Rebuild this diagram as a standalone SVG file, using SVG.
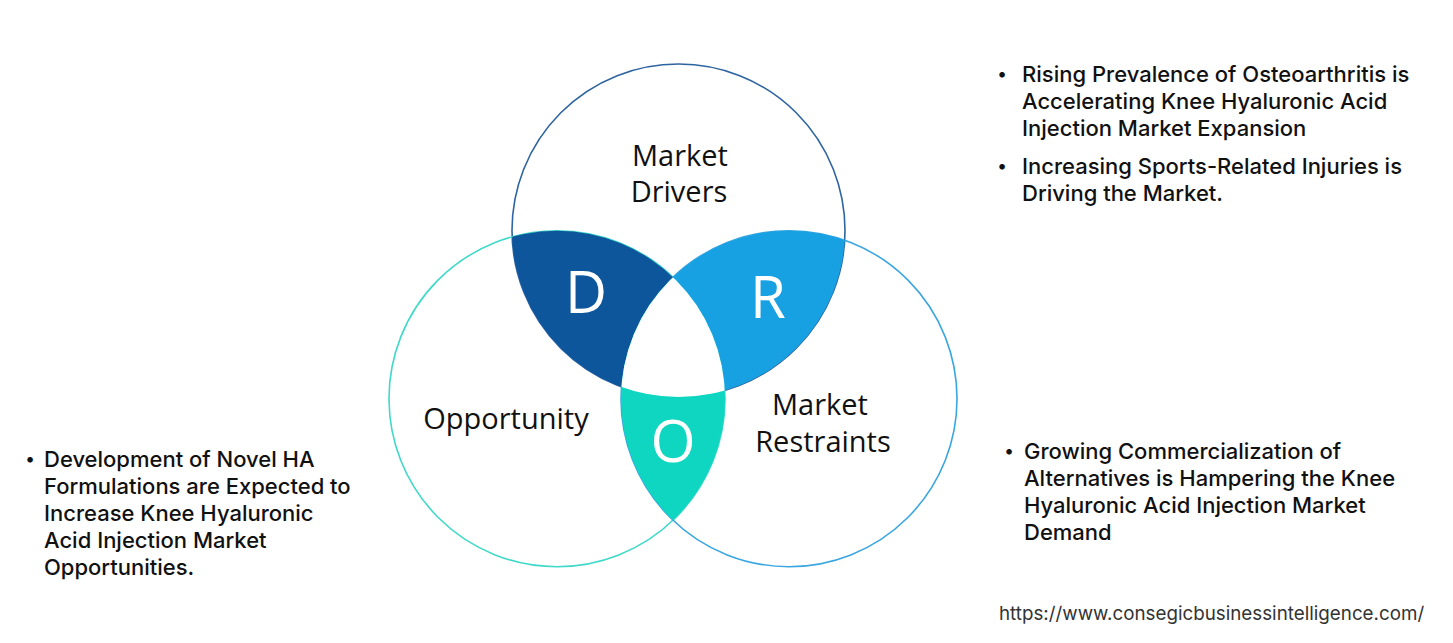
<svg xmlns="http://www.w3.org/2000/svg" width="1453" height="643" viewBox="0 0 1453 643">
<defs>
<style>
.lbl{font-family:"Open Sans","Noto Sans",sans-serif;font-size:29px;fill:#111;text-anchor:middle}
.big{font-family:"Open Sans","Noto Sans",sans-serif;font-size:58px;fill:#fff;text-anchor:middle}
.txt{font-family:Inter,"Noto Sans",sans-serif;font-size:22px;font-weight:500;fill:#111}
.bul{font-family:Inter,"Noto Sans",sans-serif;font-size:18px;fill:#111}
.url{font-family:Inter,"Noto Sans",sans-serif;font-size:18.8px;fill:#333}
</style>
<clipPath id="cT"><circle cx="678.5" cy="230.5" r="166.5"/></clipPath>
<clipPath id="cL"><circle cx="557" cy="398.7" r="168"/></clipPath>
<clipPath id="cR"><circle cx="789" cy="398.7" r="168"/></clipPath>
</defs>
<rect width="1453" height="643" fill="#fff"/>
<g id="circles" fill="none" stroke-width="1.6">
<circle cx="678.5" cy="230.5" r="166.5" stroke="#2e64a0"/>
<circle cx="557" cy="398.7" r="168" stroke="#40d9c9"/>
<circle cx="789" cy="398.7" r="168" stroke="#3aa6e0"/>
</g>
<g id="node-D">
<circle cx="678.5" cy="230.5" r="166.5" fill="#0d569c" clip-path="url(#cL)"/>
</g>
<g id="node-R">
<circle cx="678.5" cy="230.5" r="166.5" fill="#17a1e2" clip-path="url(#cR)"/>
</g>
<g id="node-O">
<circle cx="557" cy="398.7" r="168" fill="#0fd6c1" clip-path="url(#cR)"/>
</g>
<g id="center" clip-path="url(#cL)">
<circle cx="678.5" cy="230.5" r="166.5" fill="#fff" clip-path="url(#cR)"/>
</g>
<g id="letters">
<text class="big" x="586" y="313">D</text>
<text class="big" x="768" y="318">R</text>
<text class="big" x="673" y="462">O</text>
</g>
<g id="node-drivers">
<text class="lbl" x="680" y="166">Market</text>
<text class="lbl" x="679" y="202">Drivers</text>
</g>
<g id="node-opportunity">
<text class="lbl" x="506" y="429">Opportunity</text>
</g>
<g id="node-restraints">
<text class="lbl" x="820" y="415">Market</text>
<text class="lbl" x="823" y="452">Restraints</text>
</g>
<g id="text-drivers">
<text class="bul" x="997" y="80">•</text>
<text class="txt" x="1022" y="82">Rising Prevalence of Osteoarthritis is</text>
<text class="txt" x="1022" y="109">Accelerating Knee Hyaluronic Acid</text>
<text class="txt" x="1022" y="136">Injection Market Expansion</text>
<text class="bul" x="997" y="172">•</text>
<text class="txt" x="1022" y="174">Increasing Sports-Related Injuries is</text>
<text class="txt" x="1022" y="201">Driving the Market.</text>
</g>
<g id="text-restraints">
<text class="bul" x="1004" y="457">•</text>
<text class="txt" x="1024" y="459">Growing Commercialization of</text>
<text class="txt" x="1024" y="486">Alternatives is Hampering the Knee</text>
<text class="txt" x="1024" y="513">Hyaluronic Acid Injection Market</text>
<text class="txt" x="1024" y="540">Demand</text>
</g>
<g id="text-opportunity">
<text class="bul" x="25" y="465">•</text>
<text class="txt" x="44" y="467">Development of Novel HA</text>
<text class="txt" x="44" y="494">Formulations are Expected to</text>
<text class="txt" x="44" y="521">Increase Knee Hyaluronic</text>
<text class="txt" x="44" y="548">Acid Injection Market</text>
<text class="txt" x="44" y="575">Opportunities.</text>
</g>
<text class="url" x="999" y="620">https://www.consegicbusinessintelligence.com/</text>
</svg>
